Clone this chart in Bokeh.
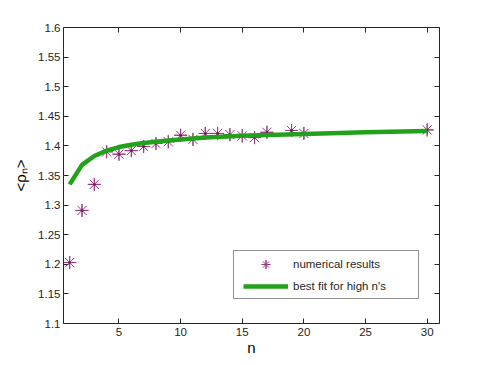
from bokeh.plotting import figure
from bokeh.models import LinearAxis, FixedTicker, Range1d, Legend, LegendItem
from bokeh.embed import file_html
from bokeh.resources import INLINE

# numerical results
n_num = [1, 2, 3, 4, 5, 6, 7, 8, 9, 10, 11, 12, 13, 14, 15, 16, 17, 19, 20, 30]
rho_num = [1.203, 1.291, 1.335, 1.390, 1.386, 1.392, 1.399, 1.404, 1.407, 1.418,
           1.411, 1.421, 1.421, 1.419, 1.417, 1.414, 1.423, 1.426, 1.421, 1.427]

# best fit for high n's
n_fit = [1, 2, 3, 4, 5, 6, 7, 8, 9, 10, 12, 15, 20, 25, 30]
rho_fit = [1.335, 1.368, 1.383, 1.392, 1.398, 1.402, 1.405, 1.407, 1.409, 1.411,
           1.414, 1.417, 1.420, 1.423, 1.425]

x_ticks = [5, 10, 15, 20, 25, 30]
y_ticks = [1.1, 1.15, 1.2, 1.25, 1.3, 1.35, 1.4, 1.45, 1.5, 1.55, 1.6]
y_tick_labels = ["1.1", "1.15", "1.2", "1.25", "1.3", "1.35", "1.4", "1.45", "1.5", "1.55", "1.6"]
x_lim = (0.5, 31)
y_lim = (1.1, 1.6)

FONT = "Liberation Sans"
AX = "#262626"
PURPLE = "#9a3a80"
GREEN = "#22a21a"

p = figure(width=485, height=365, output_backend="svg", toolbar_location=None,
           x_range=Range1d(*x_lim), y_range=Range1d(*y_lim),
           min_border_left=63, min_border_right=46, min_border_top=27, min_border_bottom=42)
p.grid.visible = False
p.outline_line_color = None
p.background_fill_color = "white"
p.border_fill_color = "white"

def style(ax, labels=True):
    ax.major_tick_in = 5
    ax.major_tick_out = 0
    ax.minor_tick_line_color = None
    ax.axis_line_color = AX
    ax.major_tick_line_color = AX
    ax.major_label_text_font = FONT
    ax.major_label_text_color = AX if labels else None
    ax.major_label_text_font_size = "11.5px"
    ax.axis_label_text_font = FONT
    ax.axis_label_text_font_style = "normal"
    ax.axis_label_text_color = "black"
    ax.axis_label_text_font_size = "15px"

p.xaxis.ticker = FixedTicker(ticks=x_ticks)
p.yaxis.ticker = FixedTicker(ticks=y_ticks)
p.yaxis.major_label_overrides = {t: s for t, s in zip(y_ticks, y_tick_labels)}
p.xaxis.axis_label = "n"
p.yaxis.axis_label = "<ρₙ>"
style(p.xaxis[0])
style(p.yaxis[0])
p.xaxis.major_label_standoff = 4
p.xaxis.axis_label_standoff = 0
p.yaxis.major_label_standoff = 3
p.yaxis.axis_label_standoff = 6

top = LinearAxis(ticker=FixedTicker(ticks=x_ticks))
style(top, labels=False)
top.major_label_standoff = 0
p.add_layout(top, "above")
right = LinearAxis(ticker=FixedTicker(ticks=y_ticks))
style(right, labels=False)
right.major_label_standoff = 0
p.add_layout(right, "right")

r1 = p.scatter(n_num, rho_num, marker="asterisk", size=13, line_color=PURPLE, line_width=1)
r2 = p.scatter(n_num, rho_num, marker="cross", size=13, line_color=PURPLE, line_width=1)
r3 = p.scatter(n_num, rho_num, marker="circle", size=2.5, fill_color="#6a1a55", line_color=None)
rl = p.line(n_fit, rho_fit, line_width=4.5, line_color=GREEN)

legend = Legend(items=[LegendItem(label="numerical results", renderers=[r1, r2]),
                       LegendItem(label="best fit for high n's", renderers=[rl])],
                location=(170, 24), glyph_width=45, glyph_height=22, label_height=22,
                label_width=116, label_standoff=5,
                padding=dict(left=9, right=9, top=2, bottom=1), spacing=0,
                label_text_font=FONT, label_text_font_size="11.5px", label_text_color=AX,
                border_line_color=AX, border_line_width=1,
                background_fill_color="white", background_fill_alpha=1.0)
p.add_layout(legend)

open("out.html", "w").write(file_html(p, INLINE))
